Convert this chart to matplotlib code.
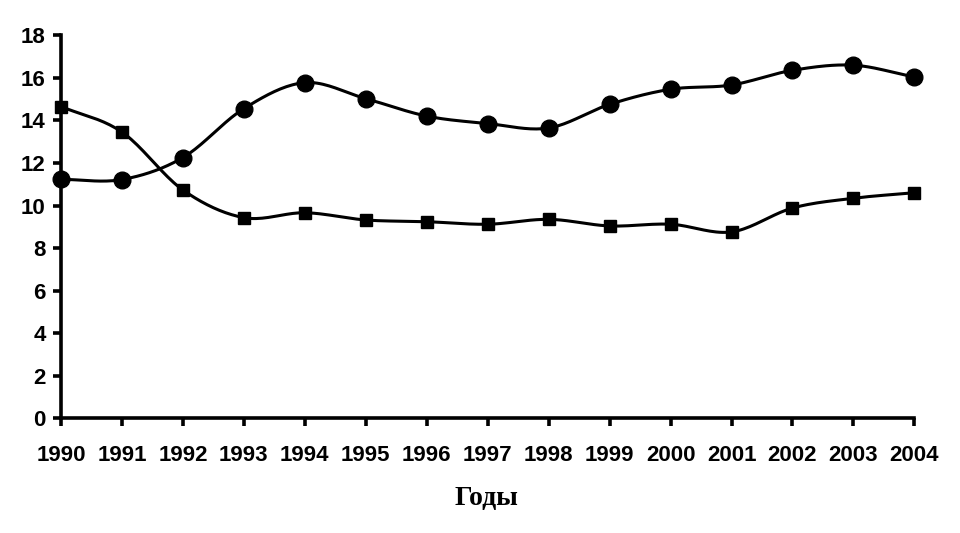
import numpy as np
import matplotlib
matplotlib.use('Agg')
import matplotlib.pyplot as plt

years = [1990, 1991, 1992, 1993, 1994, 1995, 1996, 1997, 1998, 1999, 2000, 2001, 2002, 2003, 2004]
circles = [11.23, 11.22, 12.25, 14.55, 15.77, 15.02, 14.2, 13.85, 13.64, 14.75, 15.46, 15.66, 16.35, 16.59, 16.03]
squares = [14.65, 13.45, 10.73, 9.43, 9.66, 9.32, 9.24, 9.12, 9.35, 9.04, 9.12, 8.76, 9.88, 10.34, 10.6]
yticks = [0, 2, 4, 6, 8, 10, 12, 14, 16, 18]


def smooth(x, y, n=20):
    # сглаживание как в Excel (Catmull-Rom)
    x = np.asarray(x, float)
    y = np.asarray(y, float)
    px = np.concatenate([[2 * x[0] - x[1]], x, [2 * x[-1] - x[-2]]])
    py = np.concatenate([[2 * y[0] - y[1]], y, [2 * y[-1] - y[-2]]])
    xs, ys = [], []
    t = np.linspace(0, 1, n, endpoint=False)
    for i in range(1, len(px) - 2):
        for p, out in ((px, xs), (py, ys)):
            p0, p1, p2, p3 = p[i - 1], p[i], p[i + 1], p[i + 2]
            out.extend(0.5 * (2 * p1 + (-p0 + p2) * t + (2 * p0 - 5 * p1 + 4 * p2 - p3) * t ** 2
                              + (-p0 + 3 * p1 - 3 * p2 + p3) * t ** 3))
    xs.append(x[-1])
    ys.append(y[-1])
    return xs, ys


fig = plt.figure(figsize=(9.6, 5.33), dpi=100)
ax = fig.add_axes([0.0635, 0.215, 0.889, 0.719])

for vals, mk, ms in ((circles, 'o', 12), (squares, 's', 9)):
    sx, sy = smooth(years, vals)
    ax.plot(sx, sy, color='black', lw=2.2, clip_on=False)
    ax.plot(years, vals, ls='none', marker=mk, ms=ms, color='black', clip_on=False)

ax.set_xlim(1990, 2004)
ax.set_ylim(0, 18)
ax.set_xticks(years)
ax.set_yticks(yticks)
ax.spines['top'].set_visible(False)
ax.spines['right'].set_visible(False)
ax.spines['left'].set_linewidth(2.6)
ax.spines['bottom'].set_linewidth(2.6)
ax.tick_params(axis='both', direction='out', length=6, width=2.6, labelsize=16)
ax.tick_params(axis='y', pad=5)
ax.tick_params(axis='x', pad=13)
for lab in ax.get_xticklabels() + ax.get_yticklabels():
    lab.set_fontfamily('Liberation Sans')
    lab.set_fontweight('bold')

fig.text(0.507, 0.052, 'Годы', ha='center', va='baseline', fontfamily='Liberation Serif',
         fontweight='bold', fontsize=20)

fig.savefig('out.png', dpi=100)
